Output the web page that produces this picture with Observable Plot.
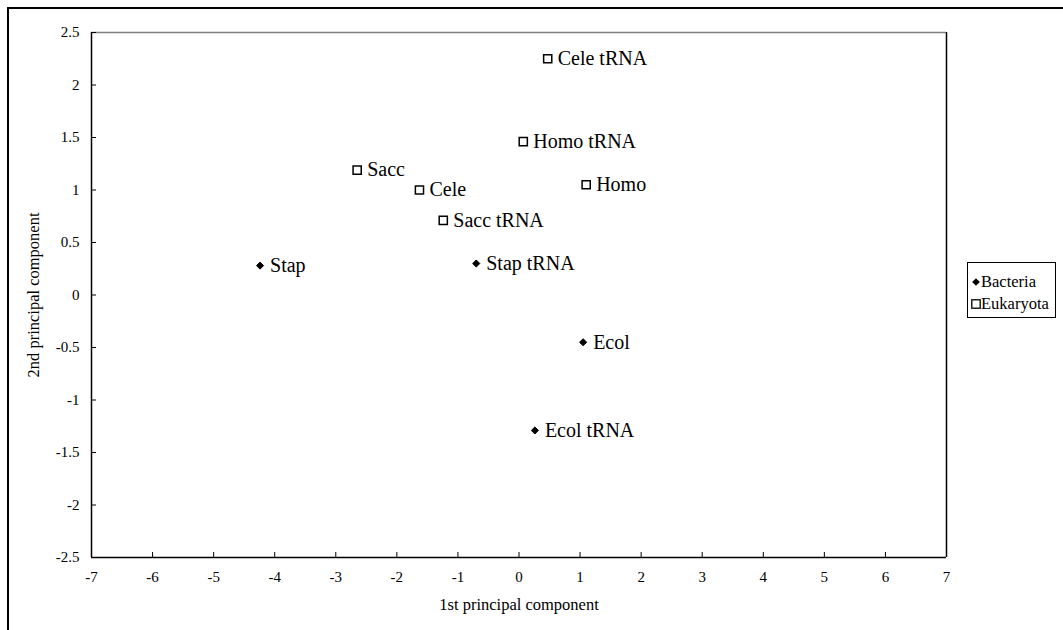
<!DOCTYPE html>
<html>
<head>
<meta charset="utf-8">
<script src="https://cdn.jsdelivr.net/npm/d3@7"></script>
<script src="https://cdn.jsdelivr.net/npm/@observablehq/plot@0.6"></script>
<style>
  html, body { margin: 0; padding: 0; background: #fff; overflow: hidden; }
  #wrap { position: relative; width: 1063px; height: 630px; overflow: hidden; font-family: "Liberation Serif", "Times New Roman", serif; }
  #chartBorder { position: absolute; left: 7px; top: 7px; width: 1200px; height: 800px; border-left: 2px solid #000; border-top: 2px solid #000; box-sizing: border-box; }
  #chart { position: absolute; left: 0; top: 0; }
  #legend { position: absolute; left: 967px; top: 262px; }
  #legend svg { display: block; }
</style>
</head>
<body>
<div id="wrap">
  <div id="chartBorder"></div>
  <div id="chart"></div>
  <div id="legend"></div>
</div>
<script>
// Principal component scores per genome / tRNA set
const labels = ["Cele tRNA", "Homo tRNA", "Sacc", "Cele", "Homo", "Sacc tRNA", "Stap", "Stap tRNA", "Ecol", "Ecol tRNA"];
const pc1 = [0.47, 0.07, -2.65, -1.63, 1.10, -1.24, -4.24, -0.70, 1.05, 0.26];
const pc2 = [2.25, 1.46, 1.19, 1.00, 1.05, 0.71, 0.28, 0.30, -0.45, -1.29];
const groups = ["Eukaryota", "Eukaryota", "Eukaryota", "Eukaryota", "Eukaryota", "Eukaryota", "Bacteria", "Bacteria", "Bacteria", "Bacteria"];

// Legend entries and axis ticks
const legendItems = ["Bacteria", "Eukaryota"];
const xTicks = [-7, -6, -5, -4, -3, -2, -1, 0, 1, 2, 3, 4, 5, 6, 7];
const yTicks = [-2.5, -2, -1.5, -1, -0.5, 0, 0.5, 1, 1.5, 2, 2.5];

const points = labels.map((name, i) => ({name, x: pc1[i], y: pc2[i], group: groups[i]}));
const bacteria = points.filter(d => d.group === "Bacteria");
const eukaryota = points.filter(d => d.group === "Eukaryota");

const xMin = d3.min(xTicks), xMax = d3.max(xTicks);
const yMin = d3.min(yTicks), yMax = d3.max(yTicks);
const fmt = d => String(d);
const serif = "Liberation Serif, Times New Roman, serif";

const chart = Plot.plot({
  width: 1063,
  height: 630,
  marginLeft: 91,
  marginRight: 117,
  marginTop: 32,
  marginBottom: 73,
  style: {fontFamily: serif, background: "transparent", color: "#000"},
  x: {domain: [xMin, xMax]},
  y: {domain: [yMin, yMax]},
  marks: [
    // plot area edges
    Plot.ruleY([yMax], {stroke: "#808080", strokeWidth: 1.5}),
    Plot.ruleX([xMax], {stroke: "#000", strokeWidth: 1.5}),
    Plot.ruleX([xMin], {stroke: "#000", strokeWidth: 1.5}),
    Plot.ruleY([yMin], {stroke: "#000", strokeWidth: 1.5}),
    // inward tick marks
    Plot.axisX({ticks: xTicks, tickSize: -5, tickFormat: () => "", label: null, strokeWidth: 1}),
    Plot.axisY({ticks: yTicks, tickSize: -5, tickFormat: () => "", label: null, strokeWidth: 1}),
    // tick labels
    Plot.axisX({ticks: xTicks, tickSize: 0, tickPadding: 14, tickFormat: fmt, label: null, fontSize: 15}),
    Plot.axisY({ticks: yTicks, tickSize: 0, tickPadding: 12, tickFormat: fmt, label: null, fontSize: 15}),
    // axis titles
    Plot.text(["1st principal component"], {frameAnchor: "bottom", textAnchor: "middle", dy: 47, lineAnchor: "middle", fontSize: 16.5}),
    Plot.text(["2nd principal component"], {frameAnchor: "left", textAnchor: "middle", rotate: -90, dx: -58, lineAnchor: "middle", fontSize: 16.5}),
    // markers
    Plot.dot(eukaryota, {x: "x", y: "y", symbol: "square", r: 4.6, fill: "#fff", stroke: "#000", strokeWidth: 1.5}),
    Plot.dot(bacteria, {x: "x", y: "y", symbol: "diamond2", r: 3.2, fill: "#000", stroke: "#000", strokeWidth: 1}),
    // point labels
    Plot.text(points, {x: "x", y: "y", text: "name", textAnchor: "start", dx: 10, fontSize: 20, fill: "#000"})
  ]
});
document.getElementById("chart").appendChild(chart);

// Legend box with the same symbols as the markers
const lw = 89, lh = 56, rowH = 22, row0 = 20;
const lsvg = d3.select("#legend").append("svg")
  .attr("width", lw).attr("height", lh)
  .style("font-family", serif).style("font-size", "16.5px");
lsvg.append("rect").attr("x", 0.5).attr("y", 0.5).attr("width", lw - 1).attr("height", lh - 1)
  .attr("fill", "#fff").attr("stroke", "#000").attr("stroke-width", 1);
legendItems.forEach((name, i) => {
  const cy = row0 + i * rowH;
  const g = lsvg.append("g").attr("transform", `translate(9,${cy})`);
  if (name === "Bacteria") {
    g.append("path").attr("d", "M0,-3.8L3.8,0L0,3.8L-3.8,0Z").attr("fill", "#000");
  } else {
    g.append("rect").attr("x", -4.2).attr("y", -4.2).attr("width", 8.4).attr("height", 8.4)
      .attr("fill", "#fff").attr("stroke", "#000").attr("stroke-width", 1.3);
  }
  lsvg.append("text").attr("x", 14).attr("y", cy).attr("dy", "0.33em").attr("fill", "#000").text(name);
});
</script>
</body>
</html>
